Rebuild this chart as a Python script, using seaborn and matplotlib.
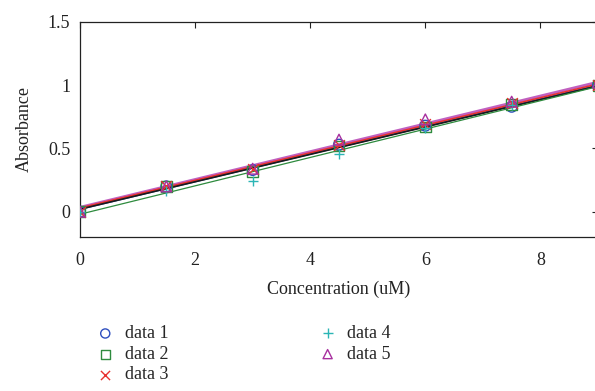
import numpy as np
import pandas as pd
import matplotlib
matplotlib.use("Agg")
import matplotlib.pyplot as plt
import seaborn as sns

conc = [0, 1.5, 3, 4.5, 6, 7.5, 9]
data1 = [0.00, 0.20, 0.33, 0.53, 0.68, 0.83, 1.00]
data2 = [0.00, 0.20, 0.32, 0.52, 0.67, 0.85, 1.00]
data3 = [0.00, 0.20, 0.34, 0.53, 0.69, 0.86, 1.00]
data4 = [0.00, 0.16, 0.24, 0.46, 0.66, 0.84, 1.00]
data5 = [0.00, 0.20, 0.34, 0.57, 0.73, 0.87, 1.02]
series_names = ["data 1", "data 2", "data 3", "data 4", "data 5"]

# fitted lines: (intercept, value at x=9)
fit_start = [0.02, 0.02, 0.03, -0.02, 0.035]
fit_end = [1.00, 0.995, 1.01, 0.99, 1.025]
fit_x = [0, 9]

sns.set_style("white")
plt.rcParams['font.family'] = ['Liberation Serif', 'DejaVu Serif']

fig = plt.figure(figsize=(5.95, 3.91), dpi=100)
ax = fig.add_axes([80/595, (391-237)/391, (598-80)/595, (237-22)/391])

colors = ["#2f4fbf", "#2e8b3e", "#e8312f", "#2bb5b5", "#a8309f"]
markers = ["o", "s", "x", "+", "^"]
line_colors = ["#2f4fbf", "#1a1a1a", "#e8312f", "#2e8b3e", "#c060c0"]
line_widths = [1.2, 1.2, 1.2, 0.9, 2.0]
order = [0, 4, 2, 1, 3]

for i in order:
    df = pd.DataFrame({"x": fit_x, "y": [fit_start[i], fit_end[i]]})
    sns.lineplot(data=df, x="x", y="y", ax=ax, color=line_colors[i],
                 linewidth=line_widths[i], legend=False, zorder=2)

all_data = [data1, data2, data3, data4, data5]
for name, vals, c, m in zip(series_names, all_data, colors, markers):
    df = pd.DataFrame({"x": conc, "y": vals})
    if m in ("x", "+"):
        sns.scatterplot(data=df, x="x", y="y", ax=ax, marker=m, color=c,
                        s=60, linewidth=1.0, label=name, zorder=3)
    else:
        sns.scatterplot(data=df, x="x", y="y", ax=ax, marker=m,
                        facecolor="none", edgecolor=c, s=60, linewidth=1.0,
                        label=name, zorder=3)

ax.set_xlim(0, 9)
ax.set_ylim(-0.2, 1.5)
ax.set_xticks([0, 2, 4, 6, 8])
ax.set_yticks([0, 0.5, 1, 1.5])
ax.set_xticklabels(["0", "2", "4", "6", "8"])
ax.set_yticklabels(["0", "0.5", "1", "1.5"])
ax.tick_params(direction="in", length=4, width=0.8, top=True, right=True,
               labelsize=13, colors="#222222", pad=7)
ax.tick_params(axis="x", pad=11)
for sp in ax.spines.values():
    sp.set_color("#222222")
    sp.set_linewidth(0.9)
ax.set_xlabel("Concentration (uM)", fontsize=13, color="#222222", labelpad=8)
ax.set_ylabel("Absorbance", fontsize=13, color="#222222", labelpad=11)

handles, labels = ax.get_legend_handles_labels()
ax.legend(handles, labels, ncol=2, frameon=False, fontsize=13,
          loc="upper left", bbox_to_anchor=(89/595, 1 - 318/391),
          bbox_transform=fig.transFigure, handletextpad=0.6,
          columnspacing=8.3, labelspacing=0.2, borderaxespad=0,
          handlelength=1.0, markerscale=0.85)

fig.savefig("out.png", dpi=100)
